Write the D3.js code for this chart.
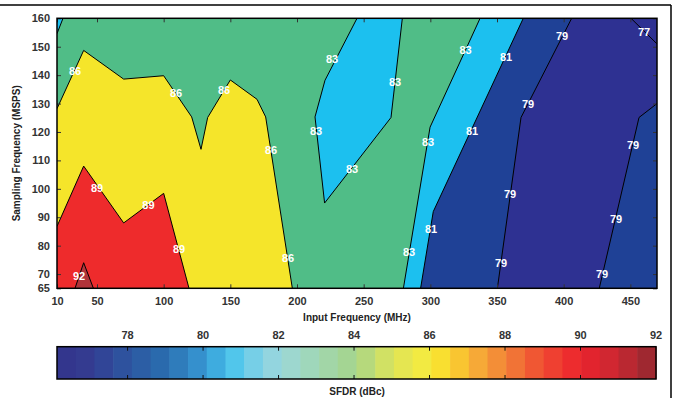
<!DOCTYPE html>
<html>
<head>
<meta charset="utf-8">
<script src="https://cdn.jsdelivr.net/npm/d3@7"></script>
<style>
  html, body { margin: 0; padding: 0; background: #fff; }
  svg { display: block; font-family: "Liberation Sans", Arial, Helvetica, sans-serif; }
</style>
</head>
<body>
<svg id="chart" width="673" height="398"></svg>
<script>
// ---------------- data (Input Frequency MHz, Sampling Frequency MSPS) ----------------
const xTickValues = [20, 50, 100, 150, 200, 250, 300, 350, 400, 450];
const xTickLabels = ["10", "50", "100", "150", "200", "250", "300", "350", "400", "450"];
const yTickValues = [65, 70, 80, 90, 100, 110, 120, 130, 140, 150, 160];
const cbTickValues = [78, 80, 82, 84, 86, 88, 90, 92];

// contour lines (SFDR, dBc)
const line86 = [[20,128.2],[40,148.7],[70,138.6],[100,139.8],[121,125.3],[128,113.9],[133,125.1],[150,138.3],[170,131.5],[176.5,125.3],[196.5,65]];
const line89 = [[20,86.8],[40,108],[70,88],[100,98.4],[119,65]];
const line92 = [[33.5,65],[40,74],[47.3,65]];
const line83TopLeft = [[20,154.6],[24.5,160]];
const line83Island = [[245,160],[221,138.2],[213.5,125.3],[220.7,95],[270.5,125.1],[279,160]];
const line83Right = [[337.3,160],[299.8,121.7],[279.8,65]];
const line81 = [[369.7,160],[302.2,92],[292.7,65]];
const line79Left = [[406,160],[368,125.1],[350.3,65]];
const line79Right = [[470,130],[456.5,125.1],[426.7,65]];
const line77 = [[450.5,160],[470,151]];

// contour labels [input MHz, sampling MSPS, level]
const labelX = [33.5,109.3,145.3,226.3,273.5,326.4,356.8,398.8,460.3,214.3,180.5,331.3,373.3,298.3,452,241.3,300.5,284,193.3,359.8,353,439.3,428.8,50,88.6,111.5,36.5];
const labelY = [141.4,133.6,134.7,145.6,137.5,148.7,146.3,153.7,155.1,120.2,113.6,120.2,129.7,116.4,115.3,106.9,85.8,77.7,75.6,98.1,73.8,89.3,69.9,100.2,94.2,78.7,69.2];
const labelText = ["86","86","86","83","83","83","81","79","77","83","86","81","79","83","79","83","81","83","86","79","79","79","79","89","89","89","92"];

// band fill colours
const bandNames  = ["<79", "79-81", "81-83", "83-86", "86-89", "89-92", ">92"];
const bandColors = ["#2e3192", "#1f4196", "#1cc0ef", "#50bd87", "#f5e52a", "#ee2b2c", "#b1343a"];

// colorbar colormap
const cbStopValues = [76.13, 77, 78, 79, 80, 80.7, 81.5, 82, 83, 84, 85, 86, 86.5, 87, 88, 89, 90, 91, 92];
const cbStopColors = ["#32348c","#343c91","#2d55a0","#2a6eaf","#3796d2","#46c3ec","#82d2e6","#9bd7dc","#a0d7b4","#a5d48c","#dce45a","#f8eb3c","#fad628","#f8b937","#f28237","#f04b32","#ec232d","#c82832","#912830"];
const cbSteps = 32;

// ---------------- drawing ----------------
const svg = d3.select("#chart");
const W = 673, H = 398;
const x = d3.scaleLinear().domain([20, 470]).range([57, 657]);
const y = d3.scaleLinear().domain([65, 160]).range([288.3, 18.3]);
const band = d3.scaleOrdinal().domain(bandNames).range(bandColors);

svg.append("defs").append("clipPath").attr("id", "plotclip")
  .append("rect").attr("x", x(20)).attr("y", y(160))
  .attr("width", x(470) - x(20)).attr("height", y(65) - y(160));

const line = d3.line().x(d => x(d[0])).y(d => y(d[1]));
const area = pts => line(pts) + "Z";

const g = svg.append("g").attr("clip-path", "url(#plotclip)");
// background band (83-86)
g.append("path").attr("d", area([[20,65],[20,160],[470,160],[470,65]])).attr("fill", band("83-86"));

const regions = [
  {pts: line86.concat([[20,65]]), b: "86-89"},
  {pts: line89.concat([[20,65]]), b: "89-92"},
  {pts: line92, b: ">92"},
  {pts: [[20,160]].concat(line83TopLeft.slice().reverse()), b: "81-83"},
  {pts: line83Island, b: "81-83"},
  {pts: line83Right.concat([[470,65],[470,160]]), b: "81-83"},
  {pts: line81.concat([[470,65],[470,160]]), b: "79-81"},
  {pts: line79Left.concat(line79Right.slice().reverse(), [[470,160]]), b: "<79"}
];
g.selectAll("path.region").data(regions).join("path")
  .attr("class", "region")
  .attr("d", d => area(d.pts))
  .attr("fill", d => band(d.b));

const lines = [line86, line89, line92, line83TopLeft, line83Island, line83Right, line81, line79Left, line79Right, line77];
g.selectAll("path.cline").data(lines).join("path")
  .attr("class", "cline")
  .attr("d", d => line(d))
  .attr("fill", "none").attr("stroke", "#000").attr("stroke-width", 1);

g.selectAll("text.clabel").data(labelText).join("text")
  .attr("class", "clabel")
  .attr("x", (d, i) => x(labelX[i]))
  .attr("y", (d, i) => y(labelY[i]))
  .attr("text-anchor", "middle").attr("dominant-baseline", "central")
  .attr("fill", "#fff").attr("font-size", 11).attr("font-weight", "bold")
  .text(d => d);

// axes
const axisStyle = sel => {
  sel.select(".domain").remove();
  sel.selectAll(".tick line").attr("stroke", "#333").attr("stroke-width", 1);
  sel.selectAll(".tick text").attr("fill", "#333").attr("font-size", 11).attr("font-weight", "bold")
     .attr("font-family", "Liberation Sans, Arial, sans-serif");
};
svg.append("g").attr("transform", `translate(0,${y(65)})`)
  .call(d3.axisBottom(x).tickValues(xTickValues).tickFormat((d, i) => xTickLabels[i]).tickSizeInner(-4).tickSizeOuter(0).tickPadding(9))
  .call(axisStyle);
svg.append("g").attr("transform", `translate(0,${y(160)})`)
  .call(d3.axisTop(x).tickValues(xTickValues).tickFormat("").tickSizeInner(-4).tickSizeOuter(0))
  .call(axisStyle);
svg.append("g").attr("transform", `translate(${x(20)},0)`)
  .call(d3.axisLeft(y).tickValues(yTickValues).tickFormat(d3.format("d")).tickSizeInner(-4).tickSizeOuter(0).tickPadding(7))
  .call(axisStyle);
svg.append("g").attr("transform", `translate(${x(470)},0)`)
  .call(d3.axisRight(y).tickValues(yTickValues).tickFormat("").tickSizeInner(-4).tickSizeOuter(0))
  .call(axisStyle);

svg.append("rect").attr("x", x(20)).attr("y", y(160))
  .attr("width", x(470) - x(20)).attr("height", y(65) - y(160))
  .attr("fill", "none").attr("stroke", "#000").attr("stroke-width", 1.5);

svg.append("text").attr("x", 357).attr("y", 317).attr("text-anchor", "middle").attr("dominant-baseline", "central")
  .attr("font-size", 10).attr("font-weight", "bold").attr("fill", "#222").text("Input Frequency (MHz)");
svg.append("text").attr("transform", `translate(16,${(y(65) + y(160)) / 2}) rotate(-90)`)
  .attr("text-anchor", "middle").attr("dominant-baseline", "central")
  .attr("font-size", 10).attr("font-weight", "bold").attr("fill", "#222").text("Sampling Frequency (MSPS)");

// colorbar
const cbx = d3.scaleLinear().domain([76.13, 92]).range([57, 656]);
const cbColor = d3.scaleLinear().domain(cbStopValues).range(cbStopColors).interpolate(d3.interpolateRgb);
const cbTop = 346.7, cbBot = 379;
const stepW = (92 - 76.13) / cbSteps;
const steps = d3.range(cbSteps).map(i => 76.13 + i * stepW);
svg.append("g").selectAll("rect").data(steps).join("rect")
  .attr("x", d => cbx(d)).attr("y", cbTop)
  .attr("width", d => cbx(d + stepW) - cbx(d) + 0.6).attr("height", cbBot - cbTop)
  .attr("fill", d => cbColor(d + stepW / 2));
svg.append("g").selectAll("line").data(cbTickValues.slice(0, -1)).join("line")
  .attr("x1", d => cbx(d)).attr("x2", d => cbx(d)).attr("y1", cbTop).attr("y2", cbTop + 4)
  .attr("stroke", "#111");
svg.append("g").selectAll("line").data(cbTickValues.slice(0, -1)).join("line")
  .attr("x1", d => cbx(d)).attr("x2", d => cbx(d)).attr("y1", cbBot - 4).attr("y2", cbBot)
  .attr("stroke", "#111");
svg.append("rect").attr("x", 57).attr("y", cbTop).attr("width", 656 - 57).attr("height", cbBot - cbTop)
  .attr("fill", "none").attr("stroke", "#000").attr("stroke-width", 1.5);
svg.append("g").selectAll("text").data(cbTickValues).join("text")
  .attr("x", d => cbx(d)).attr("y", 335).attr("text-anchor", "middle").attr("dominant-baseline", "central")
  .attr("font-size", 11).attr("font-weight", "bold").attr("fill", "#333").text(d => d);
svg.append("text").attr("x", 357).attr("y", 391).attr("text-anchor", "middle").attr("dominant-baseline", "central")
  .attr("font-size", 10).attr("font-weight", "bold").attr("fill", "#222").text("SFDR (dBc)");

// outer frame lines
svg.append("line").attr("x1", 0).attr("x2", 671).attr("y1", 5).attr("y2", 5).attr("stroke", "#000").attr("stroke-width", 1.5);
svg.append("line").attr("x1", 671).attr("x2", 671).attr("y1", 5).attr("y2", H).attr("stroke", "#000").attr("stroke-width", 1.5);
</script>
</body>
</html>
